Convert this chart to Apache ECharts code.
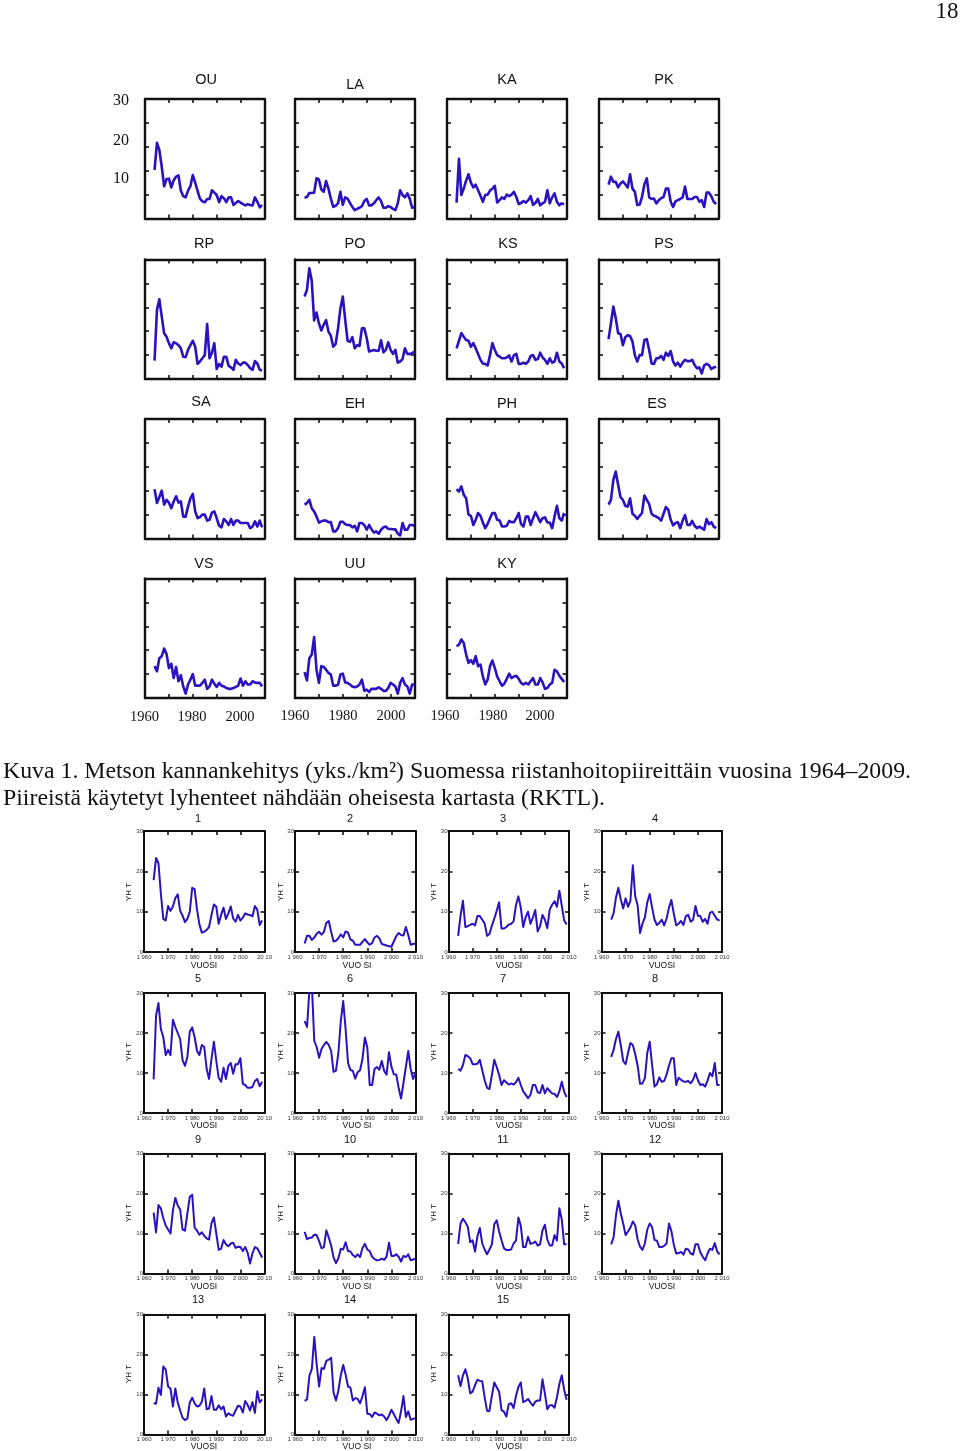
<!DOCTYPE html>
<html>
<head>
<meta charset="utf-8">
<style>html,body{margin:0;background:#fff}#chart{width:960px;height:1451px}</style>
<script src="https://cdn.jsdelivr.net/npm/echarts@6/dist/echarts.min.js"></script>
</head>
<body>
<div id="chart"></div>
<script>
// upper block, values in tick units of the frame (5 divisions, 0..30)
const ou = [12.2,19,17.2,13,8.1,9.9,10,7.8,9.6,10.5,10.8,7,5.6,5.3,7,8.1,10.9,9,6.9,5,4.3,4.1,4.9,4.9,7.1,6.5,5.9,4.1,5.6,5.1,4.1,5.3,5.3,3.4,3.9,4.4,4,3.6,3.3,3.6,3.4,3.3,5.3,4.2,2.8,3.4];
const la = [5.2,5.4,6.4,6.4,6.5,10.1,9.8,7.3,6.7,9.4,7.5,5,2.9,3.2,3.8,6.7,3.4,5.3,5,3.9,2.9,2.1,2.4,2.7,3.1,4.4,4.9,3.3,3.3,3.8,4.6,5.3,4.4,2.7,2.7,3.1,2.9,2.4,2.1,3.8,7.1,5.9,5.3,6.3,5,2.7,2.9];
const ka = [4,15,5.9,7.5,9.5,11.1,9,7.8,8.5,7.1,5.7,4.2,5.9,6,7,7.5,8.2,4,4.6,5.3,4.9,6,5.6,6,6.7,5.4,3.6,3.9,4.4,4,4.6,5.6,3.4,3.9,4.9,3.3,3.8,4.2,7.1,3.8,5.3,6.3,4.2,3.3,3.8,3.6];
const pk = [8.5,10.5,9.2,9.2,7.8,8.8,9.3,8.6,7.8,11.1,7.5,6.7,3.4,3.5,5.4,8.6,10.1,5.3,4.9,5,3.8,4.6,5.1,5.4,7.5,7.5,4.2,2.9,4.3,4.6,4.9,5.3,8,4.9,4.9,4.9,5.4,5.4,4.2,4.6,2.9,6.5,6.5,5.6,4.2,3.6];
const rp = [4.6,17.3,20,15.7,11.5,10.6,9,7.7,9.2,9,8.5,7.7,5.6,5.5,7.3,8.5,9.6,8.1,3.8,4.4,5.2,6,13.8,5.2,6.6,9,2.5,3.8,3.1,5.6,5.6,3.3,2.9,2.3,4.8,3.9,3.5,4.1,4.1,3.5,2.7,2.3,4.5,3.9,2.3,2.1];
const po = [20.7,22.4,27.8,24.7,14.7,16.7,14,12.2,13.6,14.8,11.9,10.8,8.1,8.8,12.7,17.7,20.7,14.9,9.6,9.3,10.5,7.7,8.5,8.3,12.7,12.7,10.3,6.9,7.1,7.3,7.1,7.1,9.7,6.7,7.3,9.2,7.3,6.3,7.3,4.1,4.4,5,7.7,6.3,6.3,6.5,6.9];
const ks = [7.7,9.6,11.5,10.6,9.8,9.6,8.1,9,7.7,6.3,4.8,3.9,3.8,3.4,6,9,7.3,6,5.6,5.2,5.2,5.4,5.9,4.4,6,6.3,3.8,3.8,4.1,3.8,4.4,5.8,6,4.8,5,6.6,5.4,4.8,3.8,5.2,4.1,4.4,6.6,4.4,3.9,2.7];
const ps = [10,14,18.2,15.3,11.5,11.3,8.5,10.5,11,10.8,9.4,6,4.4,6,6,9.8,10,7.3,3.9,3.8,5.2,5.2,5.8,4.8,6.6,5.8,7,4.4,3.4,4.1,3.1,4.1,4.8,4.5,4.5,4.8,3.5,2.7,2.9,1.4,3.4,3.8,3.5,2.5,2.9,3.1];
const sa = [12.4,8.9,10.4,12,8.5,9.7,9,7.6,9.3,10.6,9,9.3,5.5,5.5,8,10.1,11.2,6.8,5.1,5.4,6,6,4.5,4.7,6.5,6.8,5.1,3.2,2.8,4.9,4.3,3.4,4.9,3.4,4.5,4.5,3.9,3.9,3.9,3.9,2.6,3,4.3,3,4.5,2.8];
const eh = [8.5,8.9,9.7,7.6,6.8,5.5,4,4.3,4.5,4.5,4.1,4.1,1.8,1.8,2.6,4.2,4.2,3.6,3.4,3.4,2.8,3.2,1.8,3.9,3.9,3.4,2.2,3.4,2.3,1.5,1.8,1.2,2.2,2.8,3,2.4,2.4,2.3,2.3,1.2,0.8,3.9,2.2,2.2,3.4,3.4,3.2];
const ph = [12.4,11.8,13.1,11,10.1,6,5.7,3.4,4.7,6.4,5.7,4,2.6,3.7,5.1,6.4,6.4,4.7,4.5,3,3,3.2,4.4,4.1,4.1,5.1,6.4,3.6,3,5.5,5.5,3.4,5.1,6.6,5.4,4.1,5.1,5.3,4,4,2.6,5.5,8.2,5.1,4.5,6.4];
const es = [8.5,9.7,14.7,16.8,13.5,10.4,9.7,8.2,8,10.1,6.2,5.7,4.9,5.7,6.4,10.8,9.7,8.6,6.2,5.7,5.5,5.1,4.5,6.2,7.9,7.2,4.7,3.3,3.9,4.1,2.6,4.5,5.9,3.4,3.4,4.4,3.2,2.6,3,2.6,2.2,4.9,3.6,4.1,3,2.6];
const vs = [8,6.7,10,10.5,12.4,11.1,7.5,8.6,5,7.8,4.2,5.7,2.9,1.1,3.4,4.6,6,3.1,3.1,3.1,3.8,4.6,2.3,2.9,4.6,3.6,2.8,3.8,3.1,2.9,2.5,2.3,2.3,2.5,2.8,3.1,4.9,3.1,4.2,3.4,3.4,4.2,3.9,3.8,3.8,2.9];
const uu = [6.5,4.4,10,10.9,15.3,7.1,3.8,8,7.8,7.1,6.3,5.9,3.1,3.1,3.3,5.9,6.1,3.9,3.8,3.4,2.9,2.7,2.9,3.4,4.6,1.8,2.1,1.5,2.3,2.3,2.3,2.7,2.3,1.8,1.8,2.5,3.8,3.4,2.9,1.1,3.8,5,3.4,2.9,1.1,3.4,3.4];
const ky = [13,13.4,14.7,13.8,10.9,8.8,9.5,8.6,10.5,8,8.4,5.4,3.4,4.6,8,9.4,7.5,5.4,4.2,3.1,3.6,4.8,6.1,5,5.4,5.6,4.8,3.8,3.4,3.8,3.4,4.2,5,3.4,3.4,5,3.9,2.3,2.5,3.4,3.8,7.1,6.7,5.6,4.8,4];

// lower block, YHT per year
const p1 = [17.8,23.3,22,14.5,8.2,7.8,11.4,10.2,11.3,13.4,14.3,10.2,9,7.4,8.2,10,15.9,15.6,10.5,6.8,4.8,5,5.5,6.2,9.2,11.8,11.2,7,9.2,11,8.2,9.5,11.3,8.3,7.5,9.2,7.8,8.5,9.6,9.3,9.2,8.8,11.4,10.5,6.7,7.8];
const p2 = [2.1,4,4,3,3.6,4.5,5,4.3,5,7.2,7.7,5,2.6,2.8,3.4,4.4,3.6,5.1,4.8,3.1,2.8,1.8,1.8,1.8,2.5,3.2,2.4,1.8,2.2,3.6,4,3.4,2,1.8,1.6,1.4,1.3,2.6,3.9,4.7,4.2,4.1,6.2,4.2,1.8,2,2.1];
const p3 = [4,9,12.7,6.2,6.4,6.7,7,6.6,8.9,8.9,8,7.1,4,4.5,6.5,8.3,10.2,12.3,5.8,5.8,6.2,6.8,7,7.6,11.6,13.8,11,6.2,8.6,10,7,8.5,10.4,5.1,6.4,9.2,8,5.9,10.5,11.7,12.6,11.2,15.2,11.5,7.8,6.8];
const p4 = [8,9.5,13.5,15.9,13,10.8,13.3,11.2,12.7,21.5,13.8,11.5,4.7,7,8.6,12.3,14.4,11,8,6.7,7.2,8,6.6,8.3,11,12.9,9.5,6.6,7,7.7,6.7,8.9,9.2,7.5,8,11.4,9,8.9,7.5,8.2,7,9.7,10,9,8.1,7.8];
const p5 = [8.4,24.3,27.5,21,19,14.5,15.8,14.5,23.3,21.5,20,18.5,13.2,11.8,14,20.4,21.4,19,15.5,14.5,17,16.5,11,8.5,13.5,17.8,13,8.8,7.8,11.3,8.5,11.8,12.5,9.8,12.2,12.2,13.7,7.3,7,6.3,6.3,6.5,8,8.5,6.7,7.8];
const p6 = [23,21.5,31,32,18,16.5,13.8,16,17,17.8,17,15.5,10.3,10.6,15,23,28,21,12.5,10.8,10.5,8.6,10.2,10.7,13.5,18.9,16.4,7,7,11,11.5,10.8,13,10.5,9.6,15.2,11.6,9.7,9.6,6.3,3.6,7.5,11.5,15.5,11,8.5,10];
const p7 = [11,10.6,12,14.5,14.2,13.7,12.2,12.2,12.3,13.3,10.7,8.2,6.3,6,9.5,13.3,11.5,9.5,7,8.2,7.7,7.1,7.4,7.1,7.7,8.8,7,5.4,4.6,3.7,4.5,7,7,5.2,5,7,4.9,6.2,5.5,4.9,4.8,4,5.4,7.8,5.3,4];
const p8 = [14,15.7,18.5,20.3,17,13,12.2,15,17.5,17,14.7,11.8,7.3,7.4,8.7,15,17.8,12,6.6,7.2,8.9,7.8,8,9.6,11.8,13.7,13.7,7,8.8,8.3,7.9,7.8,8,7.4,8.3,10,8.2,7,7.2,6.6,8.1,10,9.2,12.5,7,7];
const p9 = [15.2,10.3,17.1,16.3,13.8,12,11,10,15.8,18.9,17,16,11,10.7,15,19.2,19.7,11.5,10.7,9.7,10.3,9.4,8.8,8.5,12.6,14,10,5.9,6.2,8.4,7.3,6.8,7.5,7.7,6.4,6.7,6.6,5.6,6.6,5.2,2.5,5,6.6,6.3,5.2,4];
const p10 = [10.4,8.6,8.9,9,9.7,9.6,8.1,6.3,6.6,10.8,9,7,4,2.6,3.8,6.2,6,7.8,5.6,5.5,4.6,4.1,4.8,4.1,6.4,7.4,6,5.6,4.2,3.6,3.3,3.4,3.7,3.4,4.2,7.7,4.4,4.4,4.8,4.2,3,4.4,4.1,4.8,3.3,3.5,3.7];
const p11 = [7.4,12.5,13.7,12.8,11.7,7.8,8.3,5.5,9.3,11.4,7.5,6,4.8,6,7.3,12.3,13.3,10.5,8.3,6.3,5.9,5.9,6,7.5,8.2,14,11.9,6.6,6.6,9.2,7.4,7.6,8,7,7.3,10.8,12.2,8.5,7,7,9.6,8.2,16.3,13.5,7.3,7.3];
const p12 = [7.3,9,14.5,18.2,15,12.5,9.6,10.5,11.5,13,12,8.5,6.7,5.9,7.5,11,12.5,11.6,8.4,8.2,6.6,6.6,6.9,7.5,12.5,10.6,7.2,5,5.1,5.4,4.7,6.2,6,5,4.7,7.3,7.3,5.3,4.2,3.3,5,6.2,5.9,7.6,5.5,4.8];
const p13 = [7.8,7.7,11.7,9.9,17,16.3,12,11.5,7,11.5,8,6,4.2,3.6,4,8,9.2,7.8,7,7.2,8.2,11.5,6.3,6.5,9.6,6.2,6.2,7.3,6.3,7,4.5,5.3,4.9,4.7,6,7.2,7,5.5,8.4,7.4,6,8.1,5.4,10.8,8,8.8];
const p14 = [8.4,8.8,14.8,16.4,24.4,17.5,12,16.6,16.4,18.4,18.7,19.2,10.5,8.5,11,14.8,17.4,15,12,11.7,8.5,9.1,8.9,7.8,9.6,11.8,5.2,5.1,4.4,5.5,5.2,4.8,5,4.5,3.6,4.7,6.2,5.1,3.9,2.9,5.8,9.6,4.4,5.8,3.7,3.9,4.1];
const p15 = [14.8,12.1,14.8,16.3,14,10.3,10.7,12.3,13.7,13.4,13.3,9.3,5.9,5.9,9.7,13,11.8,10.7,6.1,5.7,4.5,7.6,7.8,6.6,9.6,11.9,13,8.1,8.4,8.9,8,7.2,8.2,8.5,8.5,13.8,10.2,6.3,7.3,7.3,6.7,9.3,12.6,14.8,11.2,8.7];

const years = [1964,1965,1966,1967,1968,1969,1970,1971,1972,1973,1974,1975,1976,1977,1978,1979,1980,1981,1982,1983,1984,1985,1986,1987,1988,1989,1990,1991,1992,1993,1994,1995,1996,1997,1998,1999,2000,2001,2002,2003,2004,2005,2006,2007,2008,2009,2010];

const upperNames = ["OU","LA","KA","PK","RP","PO","KS","PS","SA","EH","PH","ES","VS","UU","KY"];
const upperSeries = [ou,la,ka,pk,rp,po,ks,ps,sa,eh,ph,es,vs,uu,ky];
const lowerNames = ["1","2","3","4","5","6","7","8","9","10","11","12","13","14","15"];
const lowerSeries = [p1,p2,p3,p4,p5,p6,p7,p8,p9,p10,p11,p12,p13,p14,p15];

const yearLabels = {1960:"1 960",1970:"1 970",1980:"1 980",1990:"1 990",2000:"2 000",2010:"2 010"};
const upperYLabels = ["30","20","10"];
const upperXLabels = ["1960","1980","2000"];

// frame edges in page pixels
const upperCols = [[145,264.5],[295,414.5],[447,566.5],[599,718.5]];
const upperRows = [[99,218.5],[259.5,379],[419,538.5],[578.5,698]];
const upperTitleXY = [[206,80],[355,85],[507,80],[664,80],[204,244],[355,244],[508,244],[664,244],[201,402],[355,404],[507,404],[657,404],[204,564],[355,564],[507,564]];
const lowerCols = [[144,264.5],[295,415.5],[448.5,569],[601.5,722]];
const lowerRows = [[831,952],[993,1113],[1153.5,1273.5],[1314.5,1434.5]];
const lowerTitleX = [198,350,503,655];
const lowerTitleY = [818.5,978.5,1139.5,1299.5];
const lowerXTitleX = [204,357,509,662];
const lowerXTitleY = [965.5,1125.5,1286.5,1446.5];
const lowerYTitleX = [129,281,434,587];
const lowerYTitleY = [892,1052,1213,1374];

const BLUE = "#2a12c0";
const grids = [], xAxes = [], yAxes = [], series = [], texts = [];

function addText(x, y, text, size, family, align, rotation) {
    texts.push({
        type: "text", x: x, y: y, rotation: rotation || 0,
        style: {text: text, fill: "#111", font: size + "px '" + family + "'", textAlign: align || "center", textVerticalAlign: "middle"}
    });
}

function addPanel(col, row, values, lineWidth, yStep, lower, lastLabel) {
    const g = grids.length;
    grids.push({left: col[0], width: col[1] - col[0], top: row[0], height: row[1] - row[0], containLabel: false});
    const line = {show: true, onZero: false, lineStyle: {color: "#111", width: lower ? 2 : 2.4}};
    const tick = {show: true, inside: true, length: 4, lineStyle: {color: "#111", width: 1.6}};
    const xBase = {type: "value", gridIndex: g, min: 1960, max: 2010, interval: 10, splitLine: {show: false}, axisLine: line, axisTick: tick};
    const yBase = {type: "value", gridIndex: g, min: 0, max: 30, interval: yStep, splitLine: {show: false}, axisLine: line, axisTick: tick};
    xAxes.push(Object.assign({}, xBase, {
        position: "bottom",
        axisLabel: lower ? {show: true, fontSize: 6, margin: 2, color: "#333", fontFamily: "Liberation Sans", formatter: v => (lastLabel && v === 2010) ? lastLabel : yearLabels[v]} : {show: false}
    }));
    xAxes.push(Object.assign({}, xBase, {position: "top", axisLabel: {show: false}}));
    yAxes.push(Object.assign({}, yBase, {
        position: "left",
        axisLabel: lower ? {show: true, fontSize: 6, margin: 1, color: "#333", fontFamily: "Liberation Sans"} : {show: false}
    }));
    yAxes.push(Object.assign({}, yBase, {position: "right", axisLabel: {show: false}}));
    series.push({
        type: "line", xAxisIndex: g * 2, yAxisIndex: g * 2, symbol: "none", clip: true, z: 3,
        lineStyle: {color: BLUE, width: lineWidth, join: "round"},
        data: values.map((v, i) => [years[i], v])
    });
}

upperSeries.forEach((values, i) => {
    const c = i % 4, r = Math.floor(i / 4);
    addPanel(upperCols[c], upperRows[r], values, 2.6, 6, false);
    addText(upperTitleXY[i][0], upperTitleXY[i][1], upperNames[i], 14.5, "Liberation Sans");
});
lowerSeries.forEach((values, i) => {
    const c = i % 4, r = Math.floor(i / 4);
    addPanel(lowerCols[c], lowerRows[r], values, 2, 10, true, c === 0 ? "20 10" : null);
    addText(lowerTitleX[c], lowerTitleY[r], lowerNames[i], 11, "Liberation Sans");
    addText(lowerXTitleX[c], lowerXTitleY[r], (c === 1) ? "VUO SI" : "VUOSI", 8.5, "Liberation Sans");
    addText(lowerYTitleX[c], lowerYTitleY[r], "YH T", 8, "Liberation Sans", "center", Math.PI / 2);
});

// loose labels of the upper block
[100.5,140.5,178.5].forEach((y, i) => addText(121, y, upperYLabels[i], 16, "Liberation Serif"));
[[144.5,192,240,717.5],[295,343,391,716.5],[445,493,540,716.5]].forEach(set => {
    upperXLabels.forEach((t, i) => addText(set[i], set[3], t, 14.5, "Liberation Serif"));
});

addText(947, 12, "18", 23, "Liberation Serif");
addText(3, 772, "Kuva 1. Metson kannankehitys (yks./km²) Suomessa riistanhoitopiireittäin vuosina 1964–2009.", 23.8, "Liberation Serif", "left");
addText(3, 799, "Piireistä käytetyt lyhenteet nähdään oheisesta kartasta (RKTL).", 23.8, "Liberation Serif", "left");

const chart = echarts.init(document.getElementById("chart"), null, {renderer: "canvas"});
chart.setOption({
    animation: false,
    backgroundColor: "#fff",
    grid: grids,
    xAxis: xAxes,
    yAxis: yAxes,
    series: series,
    graphic: {elements: texts}
});
</script>
</body>
</html>
